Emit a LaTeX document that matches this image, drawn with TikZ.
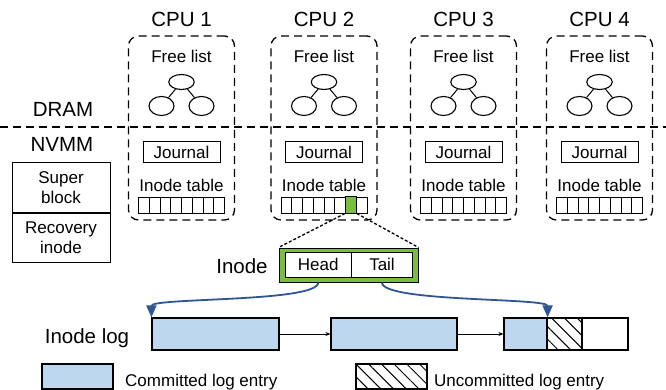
\documentclass[tikz,border=0pt]{standalone}
\usepackage{fontspec}
\setmainfont{Liberation Sans}
\usetikzlibrary{positioning,shapes.geometric,arrows.meta,patterns.meta}
\definecolor{logblue}{RGB}{189,215,238}
\definecolor{ptrblue}{RGB}{47,85,151}
\definecolor{inodegreen}{RGB}{122,190,64}
\def\bigtxt{\fontsize{20.5}{24}\selectfont}
\def\midtxt{\fontsize{17}{20}\selectfont}

\begin{document}
\begin{tikzpicture}[x=1pt, y=-1pt,
		box/.style={draw, line width=1pt, inner sep=0pt},
		cpubox/.style={draw, line width=1.3pt, dash pattern=on 8pt off 5pt, rounded corners=10pt, minimum width=106pt, minimum height=184pt},
		cell/.style={box, minimum width=10.75pt, minimum height=16pt},
		knot/.style={ellipse, draw, line width=1.1pt, inner sep=0pt},
		logbox/.style={box, line width=1.2pt, minimum height=32pt},
		ptr/.style={draw=ptrblue, line width=1.8pt, -{Triangle[length=12pt,width=10pt]}},
		hatch/.style={pattern={Lines[angle=-45,distance=9pt,line width=1pt]}}
	]
		%%%%% START %%%%%
		\useasboundingbox (0,0) rectangle (666,390);
		
		% DRAM / NVMM split
		\coordinate (memL) at (0,127);
		\coordinate (memR) at (666,127);
		\draw[line width=1.3pt, dash pattern=on 8pt off 5pt] (memL) -- (memR);
		\node[anchor=base, font=\bigtxt] (dram) at (63,116.5) {DRAM};
		\node[anchor=base, font=\bigtxt] (nvmm) at (62,151.5) {NVMM};
		
		\node[box, minimum width=98pt, minimum height=49.5pt, align=center, font=\midtxt] (sblock) at (61,187.5) {Super\\block};
		\node[box, minimum width=98pt, minimum height=49.5pt, align=center, font=\midtxt, below=0pt of sblock] (rinode) {Recovery\\inode};
		
		% per-CPU areas
		\foreach \cx [count=\i] in {181.5,324,463.5,599.5} {
			\node[cpubox] (cpu\i) at (\cx,128) {};
			\node[anchor=base, font=\bigtxt] (cpulbl\i) at (\cx,27) {CPU \i};
			\node[anchor=base, font=\midtxt] (flist\i) at (\cx,63) {Free list};
			\node[knot, minimum width=25.5pt, minimum height=15pt] (top\i) at (\cx,82) {};
			\node[knot, minimum width=25pt, minimum height=19pt] (lft\i) at (\cx-20,106) {};
			\node[knot, minimum width=25pt, minimum height=19pt] (rgt\i) at (\cx+20,106) {};
			\draw[line width=1pt] (top\i) -- (lft\i);
			\draw[line width=1pt] (top\i) -- (rgt\i);
			\node[box, minimum width=77pt, minimum height=21pt, font=\midtxt] (jrnl\i) at (\cx,152.5) {Journal};
			\node[anchor=base, font=\midtxt] (itbl\i) at (\cx,192) {Inode table};
			\foreach \k in {0,...,7}
				\node[cell] (c\i-\k) at ({\cx-37.625+\k*10.75},205) {};
		}
		\filldraw[fill=inodegreen, line width=1pt] (c2-6.north west) rectangle (c2-6.south east);
		
		% the inode
		\node[box, fill=inodegreen, minimum width=139pt, minimum height=34pt] (inode) at (348.5,265) {};
		\node[box, fill=white, minimum width=66.5pt, minimum height=24.5pt, font=\midtxt] (head) at (318.25,264.75) {Head};
		\node[box, fill=white, minimum width=61pt, minimum height=24.5pt, font=\midtxt] (tail) at (382,264.75) {Tail};
		\node[anchor=base, font=\bigtxt] (inodelbl) at (242,273) {Inode};
		\draw[line width=1.3pt, dash pattern=on 3pt off 2pt] (c2-6.south west) -- (inode.north west);
		\draw[line width=1.3pt, dash pattern=on 3pt off 2pt] (c2-6.south east) -- (inode.north east);
		
		% the log
		\node[anchor=base, font=\bigtxt] (loglbl) at (87,343) {Inode log};
		\node[logbox, fill=logblue, minimum width=127pt] (log1) at (215.5,334) {};
		\node[logbox, fill=logblue, minimum width=126pt] (log2) at (394,334) {};
		\node[logbox, fill=logblue, minimum width=43pt] (log3a) at (525.5,334) {};
		\node[logbox, hatch, minimum width=35pt] (log3b) at (564.5,334) {};
		\node[logbox, minimum width=46pt] (log3c) at (605,334) {};
		\draw[line width=1pt, -{Stealth[length=5pt,width=4pt]}] (log1) -- (log2);
		\draw[line width=1pt, -{Stealth[length=5pt,width=4pt]}] (log2) -- (log3a);
		
		\draw[ptr] (head.south |- inode.south) to[out=-90, in=90, looseness=0.3] (log1.north west);
		\draw[ptr] (tail.south |- inode.south) to[out=-90, in=90, looseness=0.3] (log3a.north east);
		
		% legend
		\node[logbox, fill=logblue, minimum width=71pt, minimum height=25pt] (legc) at (77.5,376.5) {};
		\node[anchor=base west, font=\midtxt, inner sep=0pt] (legctxt) at (125,386) {Committed log entry};
		\node[logbox, hatch, minimum width=71pt, minimum height=25pt] (legu) at (391.5,376.5) {};
		\node[anchor=base west, font=\midtxt, inner sep=0pt] (legutxt) at (434,386) {Uncommitted log entry};
		
		%%%%% END %%%%%
	\end{tikzpicture}
\end{document}
